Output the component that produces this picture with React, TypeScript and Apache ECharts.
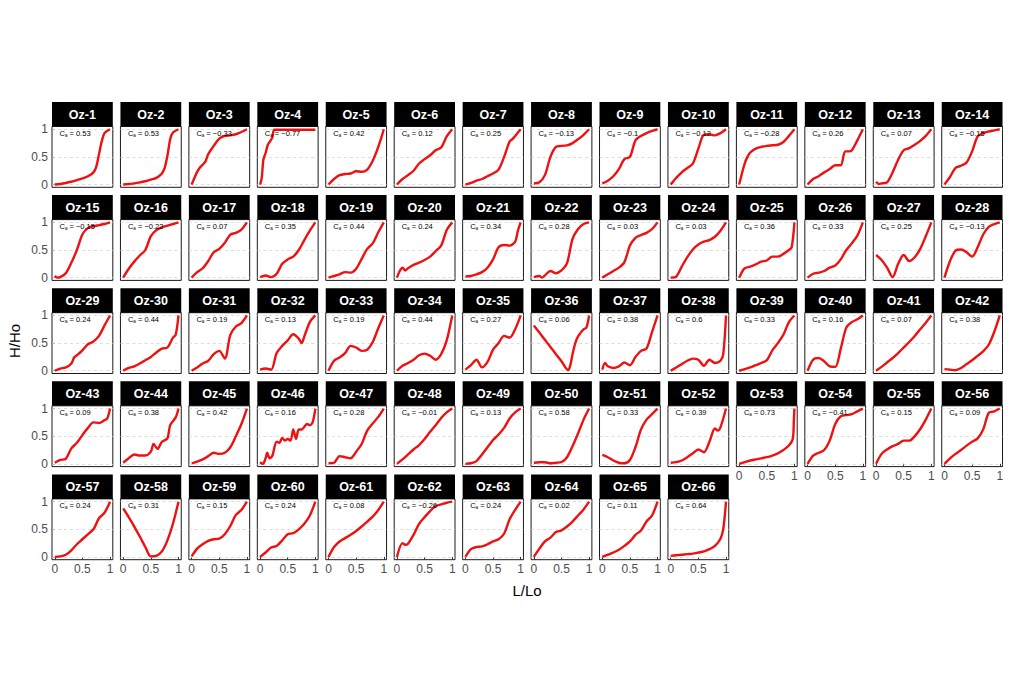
import React, { useEffect, useRef } from "react";
import * as echarts from "echarts";

// ---- data ----
const oz1 = [[0,0],[0.1,0.01],[0.2,0.03],[0.3,0.05],[0.4,0.08],[0.5,0.11],[0.6,0.15],[0.7,0.22],[0.75,0.32],[0.8,0.55],[0.85,0.78],[0.9,0.93],[1,1]];
const oz2 = [[0,0],[0.1,0.01],[0.2,0.02],[0.3,0.04],[0.4,0.06],[0.5,0.09],[0.6,0.12],[0.7,0.2],[0.75,0.3],[0.8,0.52],[0.85,0.82],[0.9,0.94],[1,1]];
const oz3 = [[0,0],[0.05,0.12],[0.1,0.23],[0.15,0.31],[0.2,0.36],[0.25,0.42],[0.3,0.55],[0.4,0.7],[0.5,0.83],[0.6,0.88],[0.7,0.89],[0.8,0.91],[0.9,0.95],[1,1]];
const oz4 = [[0,0],[0.03,0.12],[0.06,0.45],[0.1,0.57],[0.14,0.72],[0.18,0.78],[0.22,0.85],[0.26,0.99],[0.4,0.99],[0.6,0.99],[0.8,0.99],[1,0.99]];
const oz5 = [[0,0],[0.1,0.1],[0.2,0.17],[0.3,0.19],[0.4,0.2],[0.5,0.24],[0.6,0.23],[0.7,0.27],[0.8,0.43],[0.9,0.68],[1,1]];
const oz6 = [[0,0],[0.1,0.1],[0.2,0.17],[0.3,0.25],[0.4,0.38],[0.5,0.46],[0.6,0.53],[0.7,0.62],[0.8,0.67],[0.9,0.87],[1,1]];
const oz7 = [[0,0],[0.1,0.03],[0.2,0.07],[0.3,0.1],[0.4,0.15],[0.5,0.2],[0.6,0.27],[0.7,0.5],[0.8,0.78],[0.85,0.82],[0.9,0.88],[1,1]];
const oz8 = [[0,0.02],[0.1,0.04],[0.2,0.17],[0.3,0.5],[0.4,0.68],[0.5,0.7],[0.6,0.71],[0.7,0.75],[0.8,0.82],[0.9,0.9],[1,1]];
const oz9 = [[0,0.02],[0.1,0.07],[0.2,0.15],[0.3,0.28],[0.4,0.46],[0.5,0.5],[0.6,0.8],[0.7,0.88],[0.8,0.93],[0.9,0.97],[1,1]];
const oz10 = [[0,0],[0.1,0.12],[0.2,0.22],[0.3,0.3],[0.4,0.38],[0.5,0.65],[0.6,0.9],[0.7,0.91],[0.8,0.89],[0.9,0.93],[1,1]];
const oz11 = [[0,0],[0.05,0.2],[0.1,0.38],[0.15,0.5],[0.2,0.58],[0.3,0.65],[0.4,0.68],[0.5,0.7],[0.6,0.71],[0.7,0.72],[0.8,0.77],[0.9,0.88],[1,1]];
const oz12 = [[0,0],[0.1,0.1],[0.2,0.15],[0.3,0.22],[0.4,0.28],[0.5,0.35],[0.6,0.35],[0.68,0.6],[0.75,0.6],[0.8,0.62],[0.9,0.8],[1,1]];
const oz13 = [[0,0.05],[0.05,0.01],[0.1,0.02],[0.2,0.04],[0.3,0.22],[0.4,0.45],[0.5,0.62],[0.6,0.66],[0.7,0.72],[0.8,0.79],[0.9,0.88],[1,1]];
const oz14 = [[0,0],[0.1,0.14],[0.2,0.3],[0.3,0.34],[0.4,0.4],[0.5,0.6],[0.6,0.87],[0.7,0.93],[0.8,0.96],[0.9,0.98],[1,1]];
const oz15 = [[0,0.03],[0.05,0],[0.1,0.01],[0.2,0.08],[0.3,0.27],[0.4,0.5],[0.5,0.78],[0.6,0.9],[0.7,0.93],[0.8,0.95],[0.9,0.97],[1,1]];
const oz16 = [[0,0],[0.1,0.16],[0.2,0.29],[0.3,0.4],[0.4,0.5],[0.5,0.75],[0.6,0.86],[0.7,0.91],[0.8,0.94],[0.9,0.97],[1,1]];
const oz17 = [[0,0],[0.1,0.1],[0.2,0.17],[0.3,0.3],[0.4,0.46],[0.5,0.52],[0.6,0.63],[0.7,0.78],[0.8,0.81],[0.9,0.87],[1,1]];
const oz18 = [[0,0.01],[0.1,0.04],[0.2,0.01],[0.3,0.07],[0.4,0.25],[0.5,0.33],[0.6,0.38],[0.7,0.5],[0.8,0.68],[0.9,0.85],[1,1]];
const oz19 = [[0,0],[0.1,0.03],[0.2,0.06],[0.3,0.1],[0.4,0.09],[0.5,0.16],[0.6,0.34],[0.7,0.52],[0.8,0.62],[0.9,0.82],[1,1]];
const oz20 = [[0,0],[0.05,0.12],[0.1,0.18],[0.15,0.13],[0.2,0.17],[0.3,0.23],[0.4,0.27],[0.5,0.32],[0.6,0.38],[0.7,0.48],[0.8,0.58],[0.9,0.86],[1,1]];
const oz21 = [[0,0.02],[0.1,0.03],[0.2,0.06],[0.3,0.1],[0.4,0.18],[0.5,0.33],[0.6,0.55],[0.7,0.59],[0.8,0.58],[0.9,0.65],[0.95,0.85],[1,1]];
const oz22 = [[0,0.01],[0.1,0.03],[0.15,0],[0.2,0.04],[0.3,0.12],[0.4,0.08],[0.5,0.13],[0.6,0.26],[0.7,0.7],[0.8,0.88],[0.9,0.97],[1,1]];
const oz23 = [[0,0],[0.1,0.06],[0.2,0.12],[0.3,0.18],[0.4,0.28],[0.5,0.58],[0.6,0.72],[0.7,0.77],[0.8,0.81],[0.9,0.88],[1,1]];
const oz24 = [[0,0],[0.1,0.02],[0.2,0.2],[0.3,0.37],[0.4,0.51],[0.5,0.6],[0.6,0.65],[0.7,0.68],[0.8,0.74],[0.9,0.85],[1,1]];
const oz25 = [[0,0],[0.05,0.1],[0.1,0.17],[0.2,0.2],[0.3,0.24],[0.4,0.29],[0.5,0.31],[0.6,0.38],[0.7,0.38],[0.8,0.43],[0.9,0.5],[0.95,0.55],[1,1]];
const oz26 = [[0,0],[0.1,0.07],[0.2,0.09],[0.3,0.12],[0.4,0.18],[0.5,0.22],[0.6,0.33],[0.7,0.5],[0.8,0.62],[0.9,0.76],[1,1]];
const oz27 = [[0,0.41],[0.1,0.32],[0.2,0.18],[0.3,0.01],[0.4,0.25],[0.5,0.41],[0.6,0.3],[0.7,0.37],[0.8,0.52],[0.9,0.75],[1,1]];
const oz28 = [[0,0],[0.1,0.3],[0.2,0.49],[0.3,0.51],[0.4,0.46],[0.5,0.38],[0.6,0.55],[0.7,0.78],[0.8,0.92],[0.9,0.97],[1,1]];
const oz29 = [[0,0],[0.1,0.04],[0.2,0.06],[0.3,0.13],[0.35,0.24],[0.4,0.28],[0.5,0.37],[0.6,0.48],[0.7,0.53],[0.8,0.63],[0.9,0.82],[1,1]];
const oz30 = [[0,0],[0.1,0.05],[0.2,0.08],[0.3,0.13],[0.4,0.19],[0.5,0.25],[0.6,0.33],[0.7,0.4],[0.8,0.42],[0.9,0.6],[0.95,0.65],[1,1]];
const oz31 = [[0,0],[0.1,0.06],[0.2,0.13],[0.3,0.18],[0.4,0.3],[0.5,0.36],[0.6,0.22],[0.7,0.65],[0.8,0.8],[0.9,0.86],[1,1]];
const oz32 = [[0,0.02],[0.1,0.04],[0.2,0.02],[0.3,0.32],[0.4,0.45],[0.5,0.55],[0.6,0.66],[0.7,0.58],[0.75,0.5],[0.8,0.62],[0.9,0.88],[1,1]];
const oz33 = [[0,0],[0.1,0.18],[0.2,0.24],[0.3,0.32],[0.4,0.45],[0.5,0.42],[0.6,0.36],[0.7,0.38],[0.8,0.52],[0.9,0.77],[1,1]];
const oz34 = [[0,0],[0.1,0.09],[0.2,0.14],[0.3,0.2],[0.4,0.28],[0.5,0.31],[0.6,0.27],[0.7,0.2],[0.8,0.3],[0.9,0.55],[1,1]];
const oz35 = [[0,0.02],[0.1,0.1],[0.2,0.2],[0.3,0.06],[0.4,0.16],[0.5,0.38],[0.6,0.5],[0.7,0.63],[0.8,0.6],[0.9,0.75],[1,1]];
const oz36 = [[0,0.82],[0.1,0.69],[0.2,0.56],[0.3,0.43],[0.4,0.3],[0.5,0.17],[0.62,0.01],[0.66,0.1],[0.7,0.3],[0.75,0.5],[0.8,0.62],[0.9,0.75],[0.95,0.78],[1,1]];
const oz37 = [[0,0.02],[0.05,0.14],[0.1,0.08],[0.2,0.05],[0.3,0.08],[0.4,0.15],[0.5,0.1],[0.6,0.25],[0.7,0.36],[0.8,0.4],[0.9,0.7],[1,1]];
const oz38 = [[0,0],[0.1,0.06],[0.2,0.12],[0.3,0.18],[0.4,0.22],[0.5,0.2],[0.6,0.09],[0.7,0.2],[0.8,0.14],[0.9,0.18],[0.95,0.3],[1,1]];
const oz39 = [[0,0],[0.1,0.03],[0.2,0.06],[0.3,0.1],[0.4,0.14],[0.5,0.19],[0.6,0.37],[0.7,0.5],[0.8,0.65],[0.9,0.88],[1,1]];
const oz40 = [[0,0],[0.1,0.2],[0.2,0.23],[0.3,0.17],[0.4,0.08],[0.5,0.07],[0.6,0.4],[0.7,0.78],[0.8,0.88],[0.9,0.93],[1,1]];
const oz41 = [[0,0],[0.1,0.07],[0.2,0.15],[0.3,0.23],[0.4,0.32],[0.5,0.42],[0.6,0.52],[0.7,0.63],[0.8,0.75],[0.9,0.87],[1,1]];
const oz42 = [[0,0.03],[0.1,0.02],[0.2,0.01],[0.3,0.05],[0.4,0.12],[0.5,0.19],[0.6,0.27],[0.7,0.35],[0.8,0.47],[0.9,0.7],[1,1]];
const oz43 = [[0,0.02],[0.1,0.07],[0.2,0.09],[0.3,0.28],[0.4,0.38],[0.5,0.52],[0.6,0.65],[0.7,0.75],[0.8,0.74],[0.9,0.79],[0.95,0.82],[1,1]];
const oz44 = [[0,0.02],[0.1,0.1],[0.2,0.17],[0.3,0.15],[0.4,0.15],[0.5,0.22],[0.55,0.36],[0.62,0.27],[0.7,0.4],[0.8,0.46],[0.85,0.7],[0.95,0.84],[1,1]];
const oz45 = [[0,0.01],[0.1,0.04],[0.2,0.08],[0.3,0.14],[0.4,0.2],[0.5,0.18],[0.6,0.2],[0.7,0.3],[0.8,0.5],[0.9,0.72],[1,1]];
const oz46 = [[0,0.03],[0.05,0],[0.1,0.1],[0.13,0.2],[0.17,0.1],[0.22,0.14],[0.3,0.4],[0.35,0.38],[0.4,0.47],[0.45,0.42],[0.5,0.45],[0.55,0.42],[0.6,0.62],[0.65,0.45],[0.7,0.62],[0.75,0.62],[0.8,0.67],[0.85,0.72],[0.9,0.7],[0.95,0.75],[1,1]];
const oz47 = [[0,0.01],[0.1,0.02],[0.2,0.14],[0.3,0.12],[0.4,0.1],[0.5,0.22],[0.6,0.36],[0.7,0.6],[0.8,0.73],[0.9,0.85],[1,1]];
const oz48 = [[0,0],[0.1,0.08],[0.2,0.17],[0.3,0.26],[0.4,0.34],[0.5,0.45],[0.6,0.58],[0.7,0.7],[0.8,0.83],[0.9,0.93],[1,1]];
const oz49 = [[0,0],[0.1,0.01],[0.2,0.05],[0.3,0.17],[0.4,0.3],[0.5,0.43],[0.6,0.53],[0.7,0.65],[0.8,0.82],[0.9,0.93],[1,1]];
const oz50 = [[0,0.02],[0.1,0.03],[0.2,0.03],[0.3,0.01],[0.4,0.02],[0.5,0.03],[0.6,0.12],[0.7,0.32],[0.8,0.55],[0.9,0.8],[1,1]];
const oz51 = [[0,0.16],[0.1,0.12],[0.2,0.06],[0.3,0.02],[0.4,0.01],[0.5,0.07],[0.6,0.3],[0.7,0.62],[0.8,0.8],[0.9,0.9],[1,1]];
const oz52 = [[0,0.02],[0.1,0.03],[0.2,0.06],[0.3,0.12],[0.4,0.19],[0.5,0.26],[0.6,0.21],[0.7,0.4],[0.8,0.64],[0.85,0.6],[0.9,0.66],[1,1]];
const oz53 = [[0,0],[0.1,0.03],[0.2,0.06],[0.3,0.08],[0.4,0.1],[0.5,0.12],[0.6,0.15],[0.7,0.19],[0.8,0.25],[0.9,0.33],[0.97,0.45],[0.99,0.8],[1,1]];
const oz54 = [[0,0],[0.1,0.15],[0.2,0.2],[0.3,0.25],[0.4,0.42],[0.5,0.72],[0.6,0.86],[0.7,0.88],[0.8,0.9],[0.9,0.95],[1,1]];
const oz55 = [[0,0],[0.1,0.18],[0.2,0.26],[0.3,0.32],[0.4,0.36],[0.5,0.42],[0.6,0.42],[0.7,0.5],[0.8,0.63],[0.9,0.8],[1,1]];
const oz56 = [[0,0],[0.1,0.1],[0.2,0.18],[0.3,0.25],[0.4,0.33],[0.5,0.4],[0.6,0.46],[0.7,0.62],[0.8,0.92],[0.9,0.95],[1,1]];
const oz57 = [[0,0],[0.1,0.01],[0.2,0.04],[0.3,0.12],[0.4,0.23],[0.5,0.32],[0.6,0.41],[0.7,0.5],[0.8,0.7],[0.9,0.8],[1,1]];
const oz58 = [[0,0.88],[0.1,0.72],[0.2,0.55],[0.3,0.37],[0.4,0.18],[0.5,0.01],[0.6,0.02],[0.7,0.1],[0.8,0.3],[0.9,0.6],[1,1]];
const oz59 = [[0,0.01],[0.1,0.15],[0.2,0.23],[0.3,0.29],[0.4,0.32],[0.5,0.33],[0.6,0.41],[0.7,0.56],[0.8,0.76],[0.9,0.85],[1,1]];
const oz60 = [[0,0],[0.1,0.08],[0.2,0.17],[0.3,0.2],[0.4,0.3],[0.5,0.41],[0.6,0.43],[0.7,0.5],[0.8,0.6],[0.9,0.75],[1,1]];
const oz61 = [[0,0],[0.1,0.18],[0.2,0.28],[0.3,0.34],[0.4,0.4],[0.5,0.47],[0.6,0.55],[0.7,0.64],[0.8,0.73],[0.9,0.85],[1,1]];
const oz62 = [[0,0],[0.1,0.25],[0.15,0.22],[0.2,0.24],[0.3,0.4],[0.4,0.6],[0.5,0.72],[0.6,0.83],[0.7,0.92],[0.8,0.95],[0.9,0.98],[1,1]];
const oz63 = [[0,0],[0.1,0.14],[0.2,0.18],[0.3,0.19],[0.4,0.23],[0.5,0.28],[0.6,0.32],[0.7,0.42],[0.8,0.68],[0.9,0.85],[1,1]];
const oz64 = [[0,0],[0.1,0.15],[0.2,0.28],[0.3,0.35],[0.4,0.45],[0.5,0.48],[0.6,0.55],[0.7,0.64],[0.8,0.75],[0.9,0.86],[1,1]];
const oz65 = [[0,0],[0.1,0.04],[0.2,0.08],[0.3,0.13],[0.4,0.2],[0.5,0.28],[0.6,0.4],[0.7,0.48],[0.8,0.64],[0.9,0.75],[1,1]];
const oz66 = [[0,0.02],[0.1,0.03],[0.2,0.04],[0.3,0.05],[0.4,0.06],[0.5,0.08],[0.6,0.1],[0.7,0.14],[0.8,0.2],[0.9,0.33],[0.95,0.5],[1,1]];

const curves = [oz1, oz2, oz3, oz4, oz5, oz6, oz7, oz8, oz9, oz10, oz11, oz12, oz13, oz14, oz15, oz16, oz17, oz18, oz19, oz20, oz21, oz22, oz23, oz24, oz25, oz26, oz27, oz28, oz29, oz30, oz31, oz32, oz33, oz34, oz35, oz36, oz37, oz38, oz39, oz40, oz41, oz42, oz43, oz44, oz45, oz46, oz47, oz48, oz49, oz50, oz51, oz52, oz53, oz54, oz55, oz56, oz57, oz58, oz59, oz60, oz61, oz62, oz63, oz64, oz65, oz66];

const caValues = [0.53, 0.53, -0.33, -0.77, 0.42, 0.12, 0.25, -0.13, -0.1, -0.12, -0.28, 0.26, 0.07, -0.15,
  -0.15, -0.22, 0.07, 0.35, 0.44, 0.24, 0.34, 0.28, 0.03, 0.03, 0.36, 0.33, 0.25, -0.13,
  0.24, 0.44, 0.19, 0.13, 0.19, 0.44, 0.27, 0.06, 0.38, 0.6, 0.33, 0.16, 0.07, 0.38,
  0.09, 0.38, 0.42, 0.16, 0.28, -0.01, 0.13, 0.58, 0.33, 0.39, 0.73, -0.41, 0.15, 0.09,
  0.24, 0.31, 0.15, 0.24, 0.08, -0.26, 0.24, 0.02, 0.11, 0.64];

const panelNames = curves.map((_, i) => "Oz-" + (i + 1));
const xTicks = [0, 0.5, 1];
const yTicks = [0, 0.5, 1];
const gridLines = [0, 0.5, 1];

const FONT = '"Liberation Sans", Arial, Helvetica, sans-serif';

function buildOption() {
  const nCols = 14;
  const colPitch = 68.44;
  const rowPitch = 93.1;
  const pw = 60.8;
  const ph = 60.8;
  const stripH = 24.5;
  const grids: any[] = [];
  const xAxes: any[] = [];
  const yAxes: any[] = [];
  const series: any[] = [];
  const graphics: any[] = [];
  const n = curves.length;

  curves.forEach((data, i) => {
    const row = Math.floor(i / nCols);
    const col = i % nCols;
    const left = 52 + col * colPitch;
    const top = 126.5 + row * rowPitch;
    const isBottom = i + nCols >= n;
    const isLeft = col === 0;

    grids.push({
      left, top, width: pw, height: ph,
      show: true, borderColor: "#1a1a1a", borderWidth: 1, backgroundColor: "#ffffff",
      containLabel: false, outerBoundsMode: "none",
    });
    xAxes.push({
      type: "value", gridIndex: i, min: -0.05, max: 1.05,
      axisLine: { show: false },
      splitLine: { show: false },
      axisTick: { show: isBottom, customValues: xTicks, length: 3, lineStyle: { color: "#333333", width: 1 } },
      axisLabel: { show: isBottom, customValues: xTicks, color: "#4d4d4d", fontSize: 12, margin: 3, fontFamily: FONT },
    });
    yAxes.push({
      type: "value", gridIndex: i, min: -0.05, max: 1.05,
      axisLine: { show: false },
      splitLine: { show: false },
      axisTick: { show: isLeft, customValues: yTicks, length: 3, lineStyle: { color: "#333333", width: 1 } },
      axisLabel: { show: isLeft, customValues: yTicks, color: "#4d4d4d", fontSize: 12, margin: 4, fontFamily: FONT },
    });
    series.push({
      type: "line", xAxisIndex: i, yAxisIndex: i, data,
      symbol: "none", showSymbol: false, smooth: 0.3, z: 3,
      lineStyle: { color: "#ee1111", width: 2.4 },
      markLine: {
        silent: true, symbol: ["none", "none"], z: 1,
        label: { show: false },
        lineStyle: { type: [3, 3], color: "#d4d4d4", width: 0.8 },
        data: gridLines.map((v) => ({ yAxis: v })),
      },
    });

    graphics.push({
      type: "rect", silent: true,
      shape: { x: left, y: top - stripH, width: pw, height: stripH },
      style: { fill: "#000000" },
    });
    graphics.push({
      type: "text", silent: true,
      x: left + pw / 2, y: top - stripH / 2 + 0.5,
      style: {
        text: panelNames[i], fill: "#ffffff", font: "bold 12.5px " + FONT,
        textAlign: "center", textVerticalAlign: "middle", align: "center", verticalAlign: "middle",
      },
    });
    const v = caValues[i];
    const vs = v < 0 ? "\u2212" + Math.abs(v) : String(v);
    graphics.push({
      type: "text", silent: true, z: 10,
      x: left + 7.5, y: top + 6.5,
      style: {
        text: "{c|C}{s|a}{n| = " + vs + "}",
        textVerticalAlign: "middle", verticalAlign: "middle", textAlign: "left", align: "left",
        rich: {
          c: { fontSize: 7.5, fontFamily: FONT, fill: "#000", color: "#000" },
          s: { fontSize: 4.5, fontFamily: FONT, fill: "#000", color: "#000", padding: [4, 0, 0, 0] },
          n: { fontSize: 7.5, fontFamily: FONT, fill: "#000", color: "#000" },
        },
      },
    });
  });

  graphics.push({
    type: "text", silent: true, x: 14, y: 341, rotation: Math.PI / 2,
    style: { text: "H/Ho", fill: "#000", font: "15px " + FONT, textAlign: "center", textVerticalAlign: "middle", align: "center", verticalAlign: "middle" },
  });
  graphics.push({
    type: "text", silent: true, x: 527, y: 590,
    style: { text: "L/Lo", fill: "#000", font: "15px " + FONT, textAlign: "center", textVerticalAlign: "middle", align: "center", verticalAlign: "middle" },
  });

  return {
    animation: false,
    backgroundColor: "#ffffff",
    grid: grids,
    xAxis: xAxes,
    yAxis: yAxes,
    series,
    graphic: graphics,
  };
}

export default function App() {
  const ref = useRef<HTMLDivElement>(null);
  useEffect(() => {
    document.body.style.margin = "0";
    if (!ref.current) return;
    const chart = echarts.init(ref.current, undefined, { renderer: "svg" });
    chart.setOption(buildOption() as any);
    return () => chart.dispose();
  }, []);
  return <div ref={ref} style={{ width: 1010, height: 700, background: "#fff" }} />;
}
